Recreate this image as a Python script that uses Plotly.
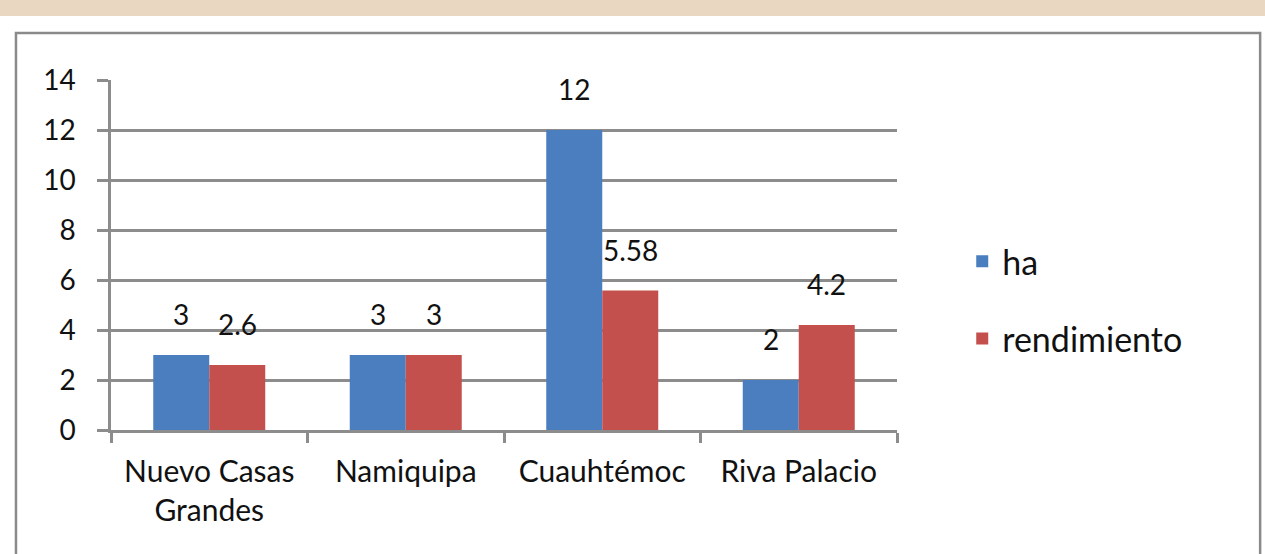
import plotly.graph_objects as go

categories = ["Nuevo Casas<br>Grandes", "Namiquipa", "Cuauhtémoc", "Riva Palacio"]
ha = [3, 3, 12, 2]
rendimiento = [2.6, 3, 5.58, 4.2]
ha_labels = ["3", "3", "12", "2"]
rend_labels = ["2.6", "3", "5.58", "4.2"]

BLUE = "#4a7ebf"
RED = "#c4504d"
GRID = "#8c8c8c"
FONT = "Lato"
TXT = "#111111"

fig = go.Figure()
fig.add_trace(go.Bar(name="ha", x=categories, y=ha, marker_color=BLUE,
                     marker_line_width=0, legendgroup="a"))
fig.add_trace(go.Bar(name="rendimiento", x=categories, y=rendimiento, marker_color=RED,
                     marker_line_width=0, legendgroup="b"))

annotations = []
for cat, v, t in zip(categories, ha, ha_labels):
    annotations.append(dict(x=cat, y=v, text=t, xref="x", yref="y", showarrow=False,
                            xshift=-28, yshift=22, yanchor="bottom",
                            font=dict(family=FONT, size=28, color=TXT)))
for cat, v, t in zip(categories, rendimiento, rend_labels):
    annotations.append(dict(x=cat, y=v, text=t, xref="x", yref="y", showarrow=False,
                            xshift=28, yshift=22, yanchor="bottom",
                            font=dict(family=FONT, size=28, color=TXT)))

shapes = [
    # beige band at top
    dict(type="rect", xref="paper", yref="paper", x0=-0.2, x1=1.7, y0=1.183, y1=1.35,
         fillcolor="#ead7c2", line_width=0, layer="below"),
    # chart frame
    dict(type="rect", xref="paper", yref="paper", x0=-0.1209, x1=1.462, y0=-0.4, y1=1.134,
         fillcolor="rgba(0,0,0,0)", line=dict(color="#8a8a8a", width=2.5), layer="below"),
]

fig.update_layout(
    width=1265, height=554,
    margin=dict(l=111, r=368, t=80, b=124),
    paper_bgcolor="white", plot_bgcolor="white",
    barmode="group", bargap=0.43, bargroupgap=0,
    font=dict(family=FONT, color=TXT),
    annotations=annotations, shapes=shapes,
    legend=dict(x=1.083, y=0.371, xanchor="left", yanchor="middle",
                font=dict(family=FONT, size=34, color=TXT),
                tracegroupgap=30, itemwidth=30, bgcolor="rgba(0,0,0,0)"),
    showlegend=True,
)
fig.update_yaxes(range=[0, 14], dtick=2, showgrid=True, gridcolor=GRID, gridwidth=2.5,
                 showline=True, linecolor=GRID, linewidth=2.5, ticks="outside",
                 ticklen=11, tickwidth=2.5, tickcolor=GRID, zeroline=False,
                 tickfont=dict(family=FONT, size=28, color=TXT),
                 ticklabelstandoff=16)
fig.update_xaxes(showgrid=False, showline=True, linecolor=GRID, linewidth=2.5,
                 ticks="outside", tickson="boundaries", ticklen=10, tickwidth=2.5,
                 tickcolor=GRID, tickfont=dict(family=FONT, size=30, color=TXT),
                 ticklabelstandoff=13)

fig.write_html("out.html", config={"displayModeBar": False},
               post_script="document.body.style.margin='0';document.body.style.overflow='hidden';")
